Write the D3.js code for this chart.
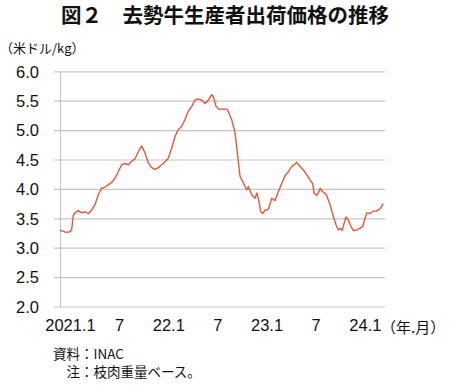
<!DOCTYPE html>
<html>
<head>
<meta charset="utf-8">
<script src="https://cdn.jsdelivr.net/npm/d3@7"></script>
<style>
body{margin:0;background:#fff;}
svg text{font-family:"Liberation Sans","Noto Sans CJK JP",sans-serif;fill:#111;}
.jp{font-family:"Noto Sans CJK JP",sans-serif;}
</style>
</head>
<body>
<svg width="450" height="385"></svg>
<script>
//月（2021年1月からの経過月）
var months=[-1.22,-0.85,-0.49,0,0.21,0.40,0.61,1.01,1.43,1.83,2.23,2.65,3.05,3.46,3.87,4.27,4.68,5.09,5.49,5.90,
6.31,6.72,7.12,7.53,7.94,8.34,8.75,9.16,9.56,9.98,10.38,10.78,11.20,11.60,12.00,12.42,12.82,13.22,13.64,14.04,
14.44,14.86,15.26,15.54,16.08,16.48,16.89,17.30,17.50,17.83,18.23,18.72,19.21,19.74,20.15,20.43,20.76,21.16,21.58,21.77,
22.19,22.59,22.80,22.99,23.28,23.53,23.81,24.21,24.63,25.03,25.43,25.85,26.25,26.65,27.07,27.47,27.68,28.08,28.49,28.90,
29.30,29.63,29.79,30.12,30.32,30.53,30.85,31.26,31.54,31.83,32.15,32.48,32.76,32.97,33.25,33.46,33.70,33.98,34.27,34.59,
35.01,35.41,35.74,36.02,36.23,36.63,36.96,37.45,37.85,38.25];
//価格（米ドル/kg）
var prices=[3.30,3.29,3.27,3.28,3.32,3.56,3.60,3.64,3.60,3.62,3.59,3.65,3.74,3.91,4.02,4.04,4.08,4.12,4.19,4.30,
4.42,4.44,4.42,4.48,4.52,4.64,4.74,4.62,4.45,4.37,4.34,4.37,4.42,4.47,4.53,4.70,4.90,5.02,5.07,5.19,
5.33,5.41,5.52,5.54,5.52,5.46,5.52,5.61,5.58,5.41,5.36,5.37,5.36,5.19,4.96,4.62,4.22,4.11,3.99,4.05,
3.91,3.85,3.94,3.85,3.62,3.59,3.65,3.66,3.85,3.81,3.96,4.10,4.23,4.30,4.39,4.43,4.46,4.39,4.33,4.25,
4.16,4.10,3.94,3.90,3.94,4.02,3.96,3.92,3.82,3.71,3.54,3.40,3.31,3.34,3.30,3.42,3.53,3.48,3.38,3.30,
3.31,3.34,3.37,3.51,3.60,3.59,3.63,3.63,3.67,3.76];
//目盛
var xTicks=[0,6,12,18,24,30,36];
var xLabels=["2021.1","7","22.1","7","23.1","7","24.1"];
var yTicks=[2.0,2.5,3.0,3.5,4.0,4.5,5.0,5.5,6.0];

var data=months.map(function(m,i){return {m:m,v:prices[i]};});

var svg=d3.select("svg");
var mLeft=60,mRight=385,mTop=71.8,mBottom=307;

var x=d3.scaleLinear().domain([-1.22,38.46]).range([mLeft,mRight]);
var y=d3.scaleLinear().domain([2,6]).range([mBottom,mTop]);

//タイトル
svg.append("text").attr("class","jp")
  .attr("x",225).attr("y",23).attr("text-anchor","middle")
  .attr("font-size",20.5).attr("font-weight","bold")
  .text("図２　去勢牛生産者出荷価格の推移");
//単位
svg.append("text").attr("class","jp")
  .attr("x",0).attr("y",53).attr("font-size",13)
  .text("（米ドル/kg）");

//グリッド
svg.append("g").selectAll("line").data(yTicks).enter().append("line")
  .attr("x1",mLeft-6).attr("x2",mRight)
  .attr("y1",function(d){return y(d);}).attr("y2",function(d){return y(d);})
  .attr("stroke","#c6c6c6").attr("stroke-width",1.2);

//y軸
var gy=svg.append("g").attr("transform","translate("+mLeft+",0)")
  .call(d3.axisLeft(y).tickValues(yTicks).tickFormat(d3.format(".1f")).tickSize(0).tickPadding(21));
gy.select(".domain").attr("stroke","#c6c6c6").attr("stroke-width",1.2);
gy.selectAll("text").attr("font-size",16.5).attr("fill","#111");

//x軸
var gx=svg.append("g").attr("transform","translate(0,"+mBottom+")")
  .call(d3.axisBottom(x).tickValues(xTicks).tickFormat(function(d,i){return xLabels[i];}).tickSize(0).tickPadding(12));
gx.select(".domain").remove();
gx.selectAll("text").attr("font-size",16.5).attr("fill","#111");
svg.append("text").attr("class","jp")
  .attr("x",381).attr("y",333).attr("font-size",15)
  .text("（年.月）");

//折れ線
var line=d3.line()
  .x(function(d){return x(d.m);})
  .y(function(d){return y(d.v);})
  .curve(d3.curveLinear);
svg.append("path").datum(data)
  .attr("fill","none").attr("stroke","#e5583b")
  .attr("stroke-width",1.4).attr("stroke-linejoin","round")
  .attr("d",line);

//注記
svg.append("text").attr("class","jp").attr("x",53).attr("y",359).attr("font-size",13.5).text("資料：INAC");
svg.append("text").attr("class","jp").attr("x",66.5).attr("y",377).attr("font-size",13.5).text("注：枝肉重量ベース。");
</script>
</body>
</html>
